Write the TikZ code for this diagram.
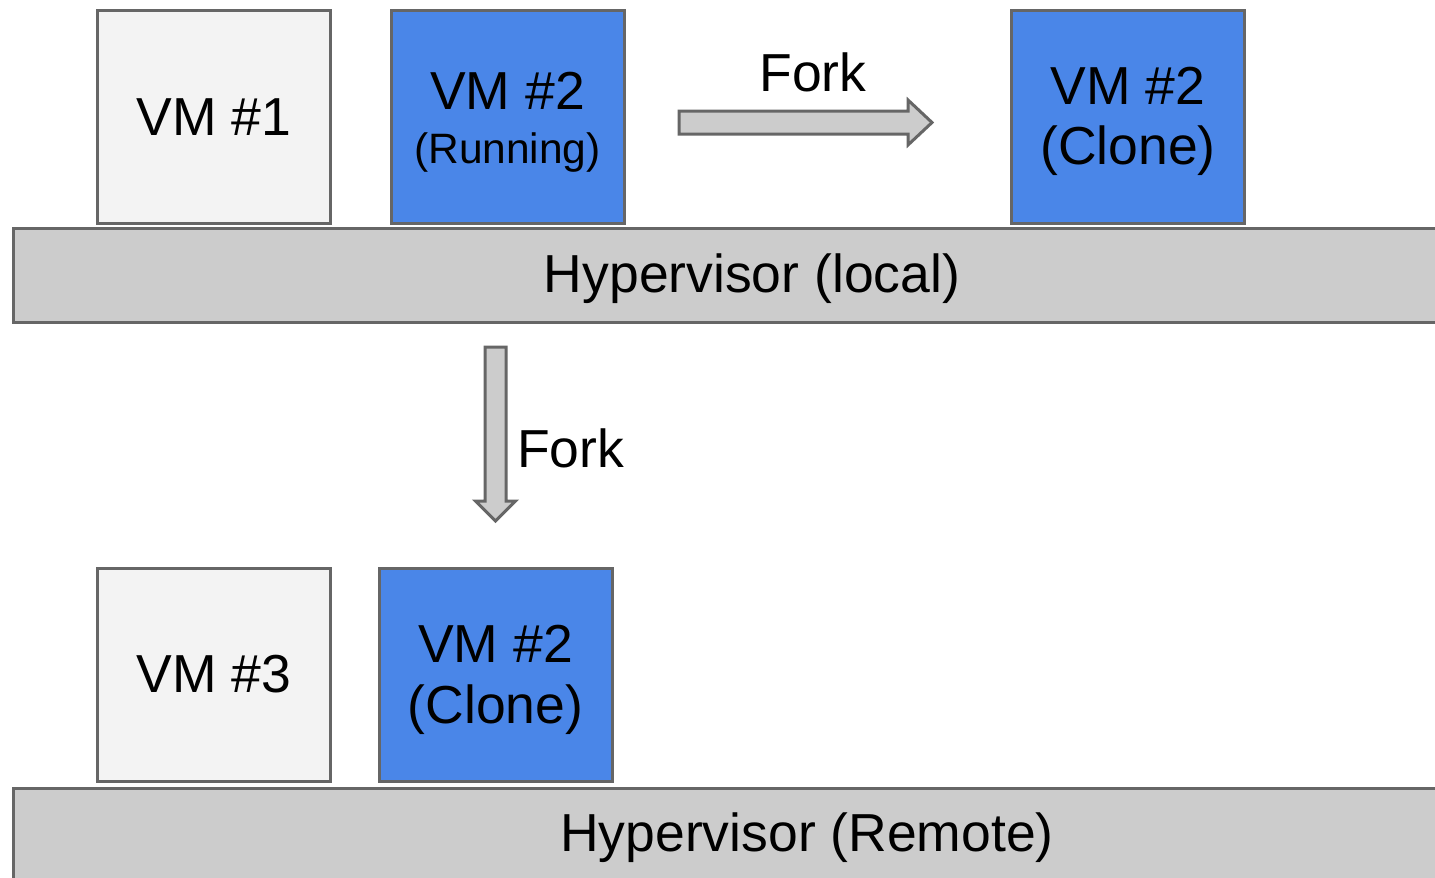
\documentclass[tikz,border=0pt]{standalone}
\usepackage{fontspec}
\setmainfont{Liberation Sans}
\usetikzlibrary{calc}
\definecolor{edgegray}{HTML}{666666}
\definecolor{bargray}{HTML}{CCCCCC}
\definecolor{lightvm}{HTML}{F3F3F3}
\definecolor{bluevm}{HTML}{4A86E8}
\begin{document}
\begin{tikzpicture}[x=1pt,y=-1pt,
  vmbox/.style={draw=edgegray, line width=3pt, minimum width=233pt, minimum height=213pt, inner sep=0pt, align=center, font=\fontsize{53.5}{65}\selectfont},
  idlevm/.style={vmbox, fill=lightvm},
  activevm/.style={vmbox, fill=bluevm},
  hyperbar/.style={draw=edgegray, line width=3pt, fill=bargray, minimum width=1430pt, minimum height=94pt, inner sep=0pt},
  bigtext/.style={font=\fontsize{53.5}{65}\selectfont, inner sep=0pt},
  smalltext/.style={font=\fontsize{42.5}{48}\selectfont, inner sep=0pt},
  fatarrow/.style={draw=edgegray, line width=3pt, fill=bargray, line join=miter}
]
\useasboundingbox (0,0) rectangle (1435,878);
\fill[white] (0,0) rectangle (1435,878);

% top row
\node[idlevm] (vm1) at (214,117) {VM \#1};
\node[activevm] (vm2run) at (507.5,117) {};
\node[bigtext, anchor=base] (vm2runname) at (507.5,109) {VM \#2};
\node[smalltext, anchor=base] (vm2runstate) at (507.5,163) {(Running)};
\node[activevm] (vm2clone) at (1128,117) {};
\node[bigtext, anchor=base] (vm2clonename) at (1128,104) {VM \#2};
\node[bigtext, anchor=base] (vm2clonestate) at (1128,164) {(Clone)};
\node[hyperbar, anchor=west] (hvlocal) at (12,275.5) {};
\node[bigtext] (hvlocaltext) at (752,278.5) {Hypervisor (local)};

% horizontal fork arrow
\coordinate (hstart) at (679,122.5);
\coordinate (htip) at (932,122.5);
\draw[fatarrow] ($(hstart)+(0,-11.5)$) -- ($(htip)+(-24,-11.5)$) -- ($(htip)+(-24,-22.5)$) -- (htip)
  -- ($(htip)+(-24,22.5)$) -- ($(htip)+(-24,11.5)$) -- ($(hstart)+(0,11.5)$) -- cycle;
\node[bigtext] (forktop) at (813,72) {Fork};

% vertical fork arrow
\coordinate (vstart) at (495.5,347);
\coordinate (vtip) at (495.5,521);
\draw[fatarrow] ($(vstart)+(-10.5,0)$) -- ($(vtip)+(-10.5,-20)$) -- ($(vtip)+(-20,-20)$) -- (vtip)
  -- ($(vtip)+(20,-20)$) -- ($(vtip)+(10.5,-20)$) -- ($(vstart)+(10.5,0)$) -- cycle;
\node[bigtext, anchor=west] (forkside) at (517,448) {Fork};

% bottom row
\node[idlevm] (vm3) at (214,674.5) {VM \#3};
\node[activevm] (vm2remote) at (495.5,674.5) {};
\node[bigtext, anchor=base] (vm2remotename) at (495.5,662) {VM \#2};
\node[bigtext, anchor=base] (vm2remotestate) at (495.5,723) {(Clone)};
\node[hyperbar, anchor=north west] (hvremote) at (12,786.5) {};
\node[bigtext] (hvremotetext) at (807,837.5) {Hypervisor (Remote)};
\end{tikzpicture}
\end{document}
